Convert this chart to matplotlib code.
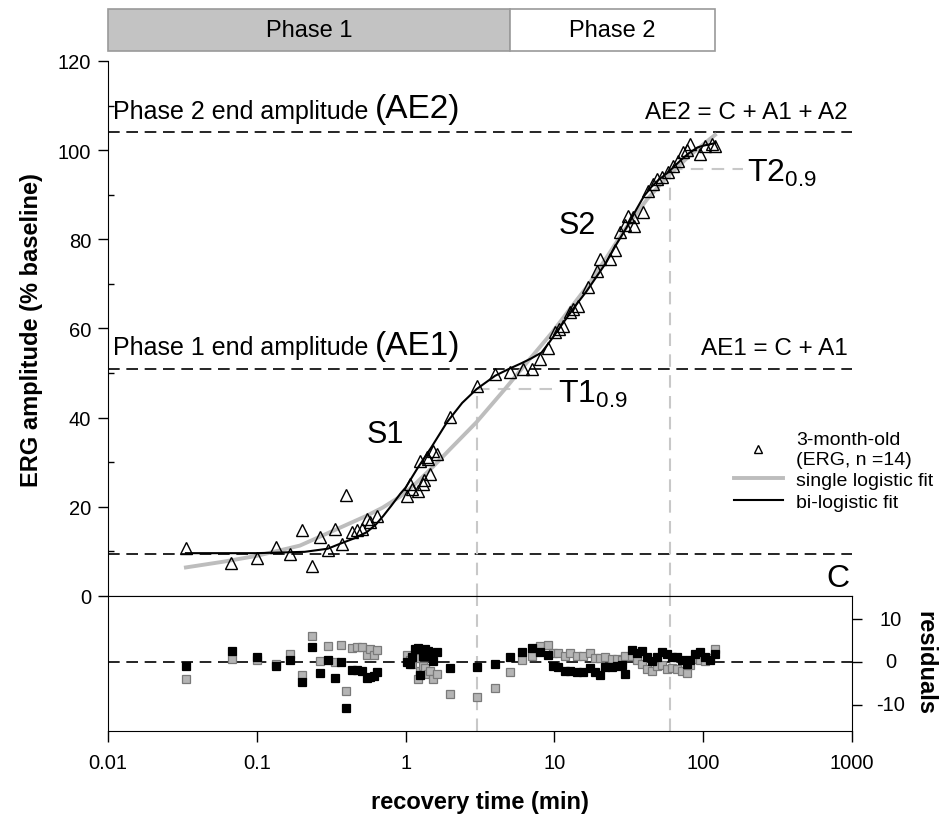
import matplotlib.pyplot as plt
import matplotlib.transforms as mtransforms
from matplotlib.patches import Rectangle
from matplotlib.lines import Line2D
from matplotlib.ticker import FixedLocator, NullLocator

plt.rcParams['font.family'] = ['Liberation Sans', 'DejaVu Sans']
plt.rcParams['mathtext.fontset'] = 'custom'
plt.rcParams['mathtext.rm'] = 'Liberation Sans'
plt.rcParams['axes.unicode_minus'] = False

# ---- data ---------------------------------------------------------------
# ERG recovery, 3-month-old (triangles)
time = [0.0334, 0.0672, 0.100, 0.134, 0.167, 0.200, 0.235, 0.267, 0.300, 0.337,
        0.372, 0.400, 0.436, 0.469, 0.507, 0.548, 0.576, 0.639,
        1.017, 1.066, 1.10, 1.22, 1.25, 1.30, 1.34, 1.39, 1.42, 1.46, 1.53, 1.62, 2.0,
        3.0, 4.0, 5.03, 6.18, 7.03, 8.0, 9.1, 10.1, 10.8, 11.5, 12.7, 13.4, 14.5,
        16.9, 19.2, 20.2, 23.6, 25.5, 27.6, 29.8, 31.0, 33.9, 34.5, 39.6, 42.8, 46.2,
        49.0, 52.6, 58.2, 63.0, 68.0, 73.5, 77.4, 81.5, 95.0, 103, 114, 120]
erg = [10.8, 7.4, 8.5, 11.0, 9.4, 14.9, 6.8, 13.3, 10.4, 15.0,
       11.7, 22.7, 14.3, 14.7, 15.0, 17.3, 16.5, 17.9,
       22.5, 25.1, 24.0, 23.6, 30.3, 25.1, 25.9, 31.1, 30.7, 27.4, 32.6, 31.8, 40.1,
       47.0, 49.8, 50.3, 50.8, 50.9, 53.2, 55.6, 59.2, 59.9, 60.6, 63.6, 64.4, 65.1,
       69.2, 73.0, 75.6, 75.6, 77.5, 81.6, 83.1, 85.3, 84.9, 83.0, 86.1, 90.9, 92.4,
       93.5, 93.9, 95.0, 96.5, 97.6, 99.5, 100.0, 101.4, 99.1, 101.0, 101.4, 101.0]

# single logistic fit (grey)
single_t = [0.0334, 0.06, 0.1, 0.195, 0.33, 0.548, 0.7, 0.92, 1.15, 1.53, 2.0, 3.0,
            4.65, 6.7, 9.7, 13, 16.5, 22, 30, 42, 58, 80, 100, 120]
single_fit = [6.4, 7.7, 9.0, 11.3, 14.7, 18.0, 19.8, 22.3, 25.0, 29.0, 33.0, 39.0,
              46.4, 52.8, 59.2, 64.8, 69.3, 75.5, 82.4, 89.0, 94.2, 98.6, 101.3, 103.4]

# bi-logistic fit (black)
bi_t = [0.0334, 0.1, 0.21, 0.3, 0.362, 0.45, 0.548, 0.63, 0.71, 0.8, 0.92, 1.0, 1.2,
        1.5, 1.9, 2.4, 3.0, 4.0, 5.0, 6.0, 7.0, 8.2, 9.2, 10.4, 12, 14, 16.5, 19,
        22.3, 26, 30.5, 35, 40, 45, 50, 58, 65, 72, 80, 91.5, 100, 114, 120]
bi_fit = [9.6, 9.6, 9.9, 10.6, 11.7, 12.9, 14.3, 16.0, 18.0, 20.2, 22.9, 24.3, 28.6,
          33.5, 39.0, 43.3, 46.4, 49.4, 51.0, 52.2, 53.3, 54.6, 56.8, 59.3, 62.2, 65.3,
          68.4, 71.4, 74.8, 78.8, 82.6, 86.3, 89.7, 91.8, 93.3, 95.0, 96.6, 98.0, 99.3,
          100.6, 101.0, 101.4, 101.6]

# residuals
res_t = [0.0334, 0.0678, 0.1, 0.135, 0.167, 0.2, 0.235, 0.267, 0.30, 0.337, 0.37, 0.40,
         0.436, 0.469, 0.507, 0.548, 0.576, 0.61, 0.639,
         1.017, 1.066, 1.10, 1.16, 1.22, 1.25, 1.30, 1.35, 1.42, 1.46, 1.53, 1.62, 2.0, 3.0,
         3.99, 5.03, 6.03, 7.03, 8.0, 9.1, 9.8, 10.6, 11.8, 12.7, 14.1, 15.6, 17.3, 18.7,
         20.2, 21.9, 24.3, 26.2, 28.3, 29.8, 33.0, 35.7, 38.6, 41.7, 45.0, 48.7, 52.6,
         56.8, 61.4, 66.3, 71.6, 77.4, 81.5, 88.1, 95.1, 102.8, 111, 120]
res_bi = [-1.0, 2.5, 1.2, -1.0, 0.5, -4.7, 3.6, -2.7, 0.5, -3.8, 0.0, -10.9,
          -1.8, -1.8, -2.0, -3.8, -3.6, -3.4, -2.3,
          0.0, -0.5, 1.1, 3.0, 3.4, -3.0, 1.5, 3.0, 2.6, 1.5, 0.3, 2.3, -1.5, -1.2,
          -0.5, 1.1, 2.4, 3.3, 2.4, 1.6, -0.9, -1.2, -2.0, -2.0, -2.4, -2.4, -1.5, -2.3,
          -3.1, -1.2, -1.2, -1.0, -0.7, -2.8, 2.8, 2.2, 2.6, 1.1, 0.3, 1.1, 2.3,
          1.9, 1.1, 1.1, 0.5, -0.5, 0.5, 1.9, 2.4, 1.1, 0.5, 1.9]
res_single = [-4.1, 0.7, 0.5, -0.5, 1.9, -3.0, 6.1, 0.2, 3.8, 0.0, 4.0, -6.7,
              3.3, 3.5, 3.5, 1.6, 3.0, 1.6, 2.8,
              1.6, 0.5, -0.5, 1.0, -4.0, -2.0, -1.0, -1.5, -2.8, -2.0, -4.0, -2.8, -7.6, -8.2,
              -6.0, -2.4, 0.5, 1.5, 3.8, 4.0, 2.1, 2.0, 1.5, 2.0, 1.3, 1.5, 2.0, 1.0,
              1.0, 1.2, 0.8, 0.8, 0.5, 1.5, 1.5, 0.5, -0.5, -1.6, -2.0, -1.0, -0.8,
              -1.6, -1.5, -1.6, -2.0, -2.6, -0.7, 0.7, 0.5, 0.3, 1.0, 3.0]

# fitted levels / times
C, AE1, AE2 = 9.5, 51.0, 104.0
T1, T1_level = 3.0, 46.5
T2, T2_level = 60.0, 95.7
phase_edges = [0.01, 5.0, 120.0]
phase_names = ['Phase 1', 'Phase 2']
xtick_vals = [0.01, 0.1, 1, 10, 100, 1000]
xtick_labels = ['0.01', '0.1', '1', '10', '100', '1000']
res_ticks = [-10, 0, 10]
res_tick_labels = ['-10', '0', '10']

# ---- figure ---------------------------------------------------------------
fig = plt.figure(figsize=(9.43, 8.2), dpi=100)
ax = fig.add_axes([0.1145, 0.272, 0.789, 0.6524])
axr = fig.add_axes([0.1145, 0.1073, 0.789, 0.1647], sharex=ax)

dash_k = dict(color='black', lw=1.2, ls=(0, (7, 4)))
dash_g = dict(color='#c8c8c8', lw=1.5, ls=(0, (6, 4)))

ax.set_xscale('log')
ax.set_xlim(0.01, 1000)
ax.set_ylim(0, 120)

for lvl in [C, AE1, AE2]:
    ax.axhline(lvl, zorder=1, **dash_k)

# T markers
ax.plot([T1, T1], [0, T1_level], zorder=1, **dash_g)
ax.plot([T1, 9.6], [T1_level, T1_level], zorder=1, **dash_g)
ax.plot([T2, T2], [0, T2_level], zorder=1, **dash_g)
ax.plot([T2, 186], [T2_level, T2_level], zorder=1, **dash_g)
axr.axvline(T1, **dash_g)
axr.axvline(T2, **dash_g)

ax.plot(single_t, single_fit, color='#bdbdbd', lw=2.8, zorder=2)
ax.plot(bi_t, bi_fit, color='black', lw=1.5, zorder=3)
ax.plot(time, erg, ls='none', marker='^', ms=8, mfc='none', mec='black', mew=1.0,
        zorder=4)

ax.spines['top'].set_visible(False)
ax.spines['right'].set_visible(False)
ax.set_yticks([0, 20, 40, 60, 80, 100, 120])
ax.yaxis.set_minor_locator(FixedLocator([10, 30, 50, 70, 90, 110]))
ax.tick_params(axis='y', which='major', direction='out', length=7, width=1,
               labelsize=14.5, pad=5)
ax.tick_params(axis='y', which='minor', direction='in', length=4, width=1)
ax.tick_params(axis='x', which='both', bottom=False, labelbottom=False)

# texts
ytr = ax.get_yaxis_transform()
t2 = ax.text(0.0067, 107.3, 'Phase 2 end amplitude ', transform=ytr, fontsize=18,
             ha='left', va='baseline')
ax.annotate('(AE2)', xy=(1, 0), xycoords=t2, xytext=(0, -1.3),
            textcoords='offset points', fontsize=24, ha='left', va='bottom')
t1 = ax.text(0.0067, 54.2, 'Phase 1 end amplitude ', transform=ytr, fontsize=18,
             ha='left', va='baseline')
ax.annotate('(AE1)', xy=(1, 0), xycoords=t1, xytext=(0, -1.3),
            textcoords='offset points', fontsize=24, ha='left', va='bottom')
ax.text(0.9946, 107.3, 'AE2 = C + A1 + A2', transform=ytr, fontsize=17.5,
        ha='right', va='baseline')
ax.text(0.9946, 54.2, 'AE1 = C + A1', transform=ytr, fontsize=17.5,
        ha='right', va='baseline')
ax.text(0.997, 2.2, 'C', transform=ytr, fontsize=23, ha='right', va='baseline')
ax.text(0.548, 34.5, 'S1', fontsize=22, ha='left', va='baseline')
ax.text(10.6, 81.4, 'S2', fontsize=22, ha='left', va='baseline')
ax.text(10.6, 43.6, r'$\mathregular{T1_{0.9}}$', fontsize=23, ha='left', va='baseline')
ax.text(196, 93.1, r'$\mathregular{T2_{0.9}}$', fontsize=23, ha='left', va='baseline')

# phase bars above the plot
btr = mtransforms.blended_transform_factory(ax.transData, ax.transAxes)
colors = ['#c3c3c3', 'white']
for i in range(2):
    x0, x1 = phase_edges[i], phase_edges[i + 1]
    ax.add_patch(Rectangle((x0, 1.0187), x1 - x0, 0.0785, transform=btr,
                           facecolor=colors[i], edgecolor='#9a9a9a', lw=1.2,
                           clip_on=False))
    ax.text((x0 * x1) ** 0.5, 1.0187 + 0.0785 / 2, phase_names[i], transform=btr,
            fontsize=17, ha='center', va='center')

# legend
handles = [Line2D([], [], ls='none', marker='^', ms=6, mfc='none', mec='black', mew=1.0),
           Line2D([], [], color='#bdbdbd', lw=2.8),
           Line2D([], [], color='black', lw=1.5)]
labels = ['3-month-old\n(ERG, n =14)', 'single logistic fit', 'bi-logistic fit']
fig.legend(handles, labels, loc='upper left', bbox_to_anchor=(734 / 943, 1 - 432 / 820),
           frameon=False, fontsize=14, handlelength=2.5, handletextpad=0.7,
           labelspacing=0.2, borderpad=0, borderaxespad=0)

# residual panel
axr.plot(res_t, res_single, ls='none', marker='s', ms=5.5, mfc='#b4b4b4', mec='#7a7a7a',
         mew=0.9, zorder=3)
axr.plot(res_t, res_bi, ls='none', marker='s', ms=5.5, mfc='black', mec='black',
         mew=0.9, zorder=4)
axr.axhline(0, zorder=2, **dash_k)
axr.set_ylim(-16.2, 15.5)
axr.set_xticks(xtick_vals)
axr.set_xticklabels(xtick_labels)
axr.xaxis.set_minor_locator(NullLocator())
axr.yaxis.tick_right()
axr.set_yticks(res_ticks)
axr.tick_params(axis='y', direction='out', length=7, width=1, labelright=False)
# right-hand labels are centred on one another in the original
rtr = axr.get_yaxis_transform()
for v, s in zip(res_ticks, res_tick_labels):
    axr.text(1.0524, v, s, transform=rtr, fontsize=14.5, ha='center', va='center')
axr.tick_params(axis='x', direction='out', length=8, width=1, labelsize=14.5, pad=8)

fig.text(32 / 943, 1 - 330 / 820, 'ERG amplitude (% baseline)', rotation=90,
         fontsize=17, fontweight='bold', ha='center', va='center')
fig.text(480 / 943, 1 - 803 / 820, 'recovery time (min)', fontsize=17,
         fontweight='bold', ha='center', va='center')
fig.text(925 / 943, 1 - 663 / 820, 'residuals', rotation=270, fontsize=17,
         fontweight='bold', ha='center', va='center')

fig.savefig('out.png', dpi=100)
